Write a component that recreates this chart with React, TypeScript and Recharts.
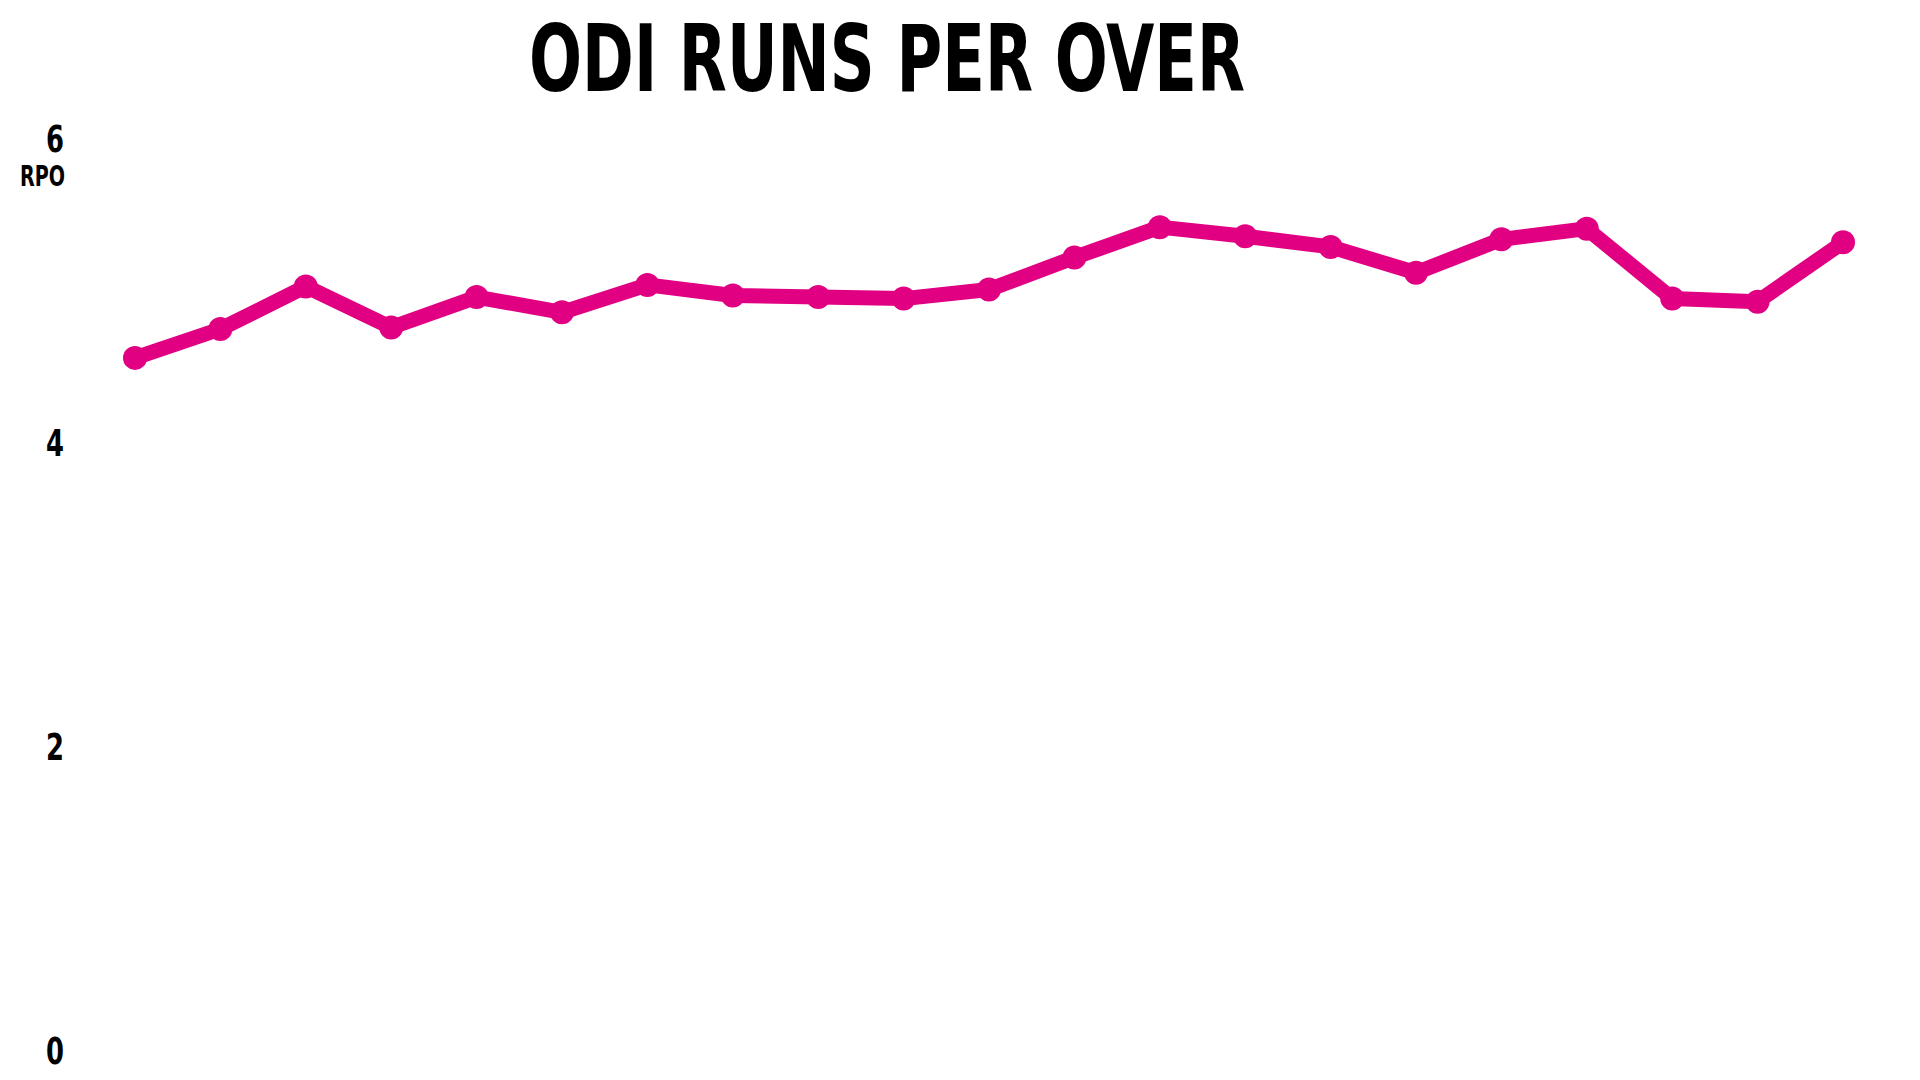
import React from "react";
import { LineChart, Line, XAxis, YAxis } from "recharts";

const years = ["2000","2001","2002","2003","2004","2005","2006","2007","2008","2009","2010","2011","2012","2013","2014","2015","2016","2017","2018","2019","2020"];
const rpo = [4.56, 4.75, 5.03, 4.76, 4.96, 4.86, 5.04, 4.97, 4.96, 4.95, 5.01, 5.22, 5.42, 5.36, 5.29, 5.12, 5.34, 5.41, 4.95, 4.93, 5.32];
const yTicks = [0, 2, 4, 6];

const data = years.map((y, i) => ({ year: y, rpo: rpo[i] }));

const FONT = "'DejaVu Sans Condensed', 'Liberation Sans Narrow', sans-serif";
const PINK = "#e10082";

const Tick = (props: any) => {
  const { x, y, payload } = props;
  return (
    <g>
      <text x={x} y={y} dy="0.355em" textAnchor="end" fontFamily={FONT} fontWeight={700} fontSize={37} fill="#000" textLength={18} lengthAdjust="spacingAndGlyphs">
        {payload.value}
      </text>
      {payload.value === 6 && (
        <text x={x + 1} y={y + 47} textAnchor="end" fontFamily={FONT} fontWeight={700} fontSize={29} fill="#000" textLength={45} lengthAdjust="spacingAndGlyphs">
          RPO
        </text>
      )}
    </g>
  );
};

export default function App() {
  return (
    <div style={{ position: "absolute", left: 0, top: 0, width: 1920, height: 1080, background: "#fff" }}>
      <svg width={1920} height={120} style={{ position: "absolute", left: 0, top: 0 }}>
        <text x={529} y={91} fontFamily={FONT} fontWeight={700} fontSize={92} fill="#000" textLength={716} lengthAdjust="spacingAndGlyphs">
          ODI RUNS PER OVER
        </text>
      </svg>
      <div style={{ position: "absolute", left: 0, top: 0 }}>
        <LineChart width={1920} height={1080} data={data} margin={{ top: 139, right: 77, bottom: 29, left: 0 }}>
          <XAxis dataKey="year" hide padding={{ left: 0, right: 0 }} />
          <YAxis
            domain={[0, 6]}
            ticks={yTicks}
            width={135}
            axisLine={false}
            tickLine={false}
            tickSize={0}
            tickMargin={71}
            tick={<Tick />}
            interval={0}
          />
          <Line
            type="linear"
            dataKey="rpo"
            stroke={PINK}
            strokeWidth={15}
            strokeLinejoin="round"
            dot={{ r: 12, fill: PINK, stroke: "none" }}
            isAnimationActive={false}
          />
        </LineChart>
      </div>
    </div>
  );
}
